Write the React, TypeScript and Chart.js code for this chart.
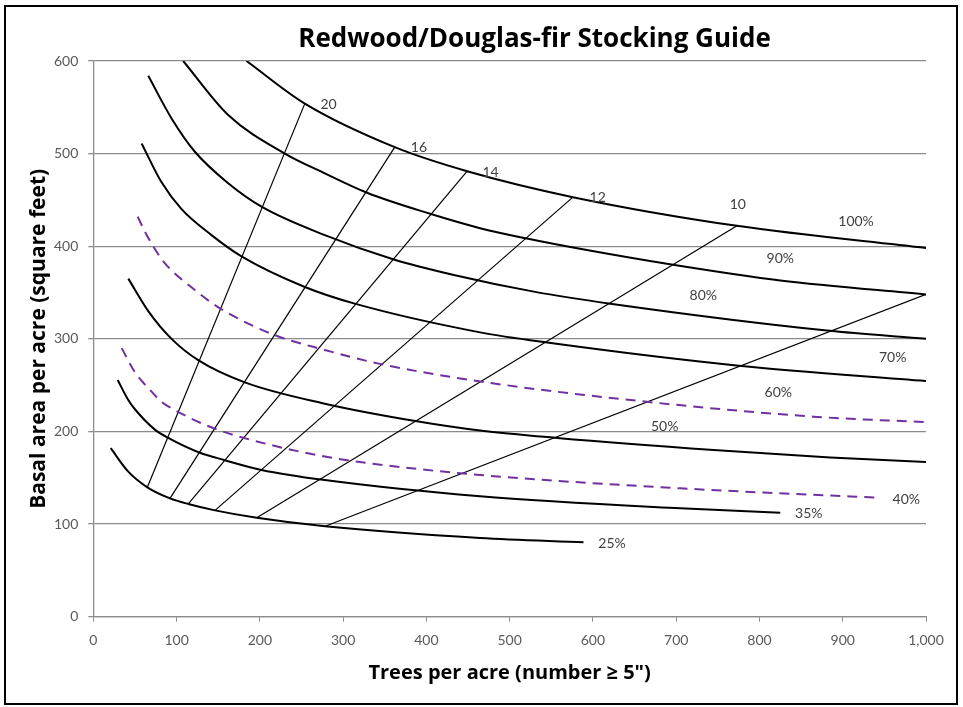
import React, { useEffect, useRef } from "react";
import { Chart, registerables } from "chart.js";

Chart.register(...registerables);

// Stocking-percent curves (trees per acre, basal area)
const tpa100 = [184, 254, 362, 449, 576, 773, 1000];
const ba100 = [600, 554, 507, 481, 453, 422, 398];
const tpa90 = [108, 162, 230, 278, 328, 404.5, 464.5, 520.7, 582.7, 698, 825, 1000];
const ba90 = [600, 541.7, 500, 478.7, 458, 435, 419.5, 408.3, 397.5, 379.7, 363, 348];
const tpa80 = [66, 94, 122, 162, 202, 278, 360, 433, 529, 621, 881, 1000];
const ba80 = [584, 538, 502, 468, 442.7, 412, 386, 369, 351, 338, 309, 300];
const tpa70 = [58, 82, 106, 142, 178, 254, 314, 464.5, 545, 775, 1000];
const ba70 = [511, 469, 440, 412, 389, 356, 338, 307, 296, 271, 254.5];
const tpa60 = [53.3, 62, 76, 86, 122, 152, 218, 278, 344, 464.5, 665, 865, 1000];
const ba60 = [432, 415.7, 394, 381.5, 352.7, 333, 304, 288, 273, 254, 232, 216, 210];
const tpa50 = [42, 66, 94, 126, 182, 278, 388.5, 464.5, 557, 745, 885, 1000];
const ba50 = [365, 330, 300, 277, 253, 230, 211, 201, 193, 180, 172, 167];
const tpa40 = [34.1, 50, 70, 82, 98, 146, 222, 278, 328, 464.5, 705, 942.6];
const ba40 = [290, 264, 243, 232, 223, 203, 183.5, 173, 166, 153, 138.6, 128.5];
const tpa35 = [29.3, 42, 50, 74, 90, 128, 158, 202, 278, 464.5, 705, 825];
const ba35 = [255.6, 234, 224, 202, 193, 177, 169, 158.4, 147.5, 130, 117, 112.3];
const tpa25 = [20.9, 42, 64.9, 92.1, 114.1, 146.2, 196.3, 278.4, 464.5, 588.7];
const ba25 = [182, 156.6, 139.7, 127.8, 121.7, 114.8, 106.8, 97.6, 85, 80.3];

// Diameter (QMD) lines: [lower TPA, lower BA, upper TPA, upper BA]
const dia20 = [64.9, 139.7, 254, 554];
const dia16 = [92.1, 127.8, 362, 507];
const dia14 = [114.1, 121.7, 449, 481];
const dia12 = [146.2, 114.8, 576, 453];
const dia10 = [196.3, 106.8, 773, 422];
const dia8 = [278.4, 97.6, 1000, 348];

// In-chart labels
const labelText = ["20", "16", "14", "12", "10", "100%", "90%", "80%", "70%", "60%", "50%", "40%", "35%", "25%"];
const labelX = [282.6, 391, 477, 605.7, 774, 916, 825, 732.5, 960, 822.6, 686.2, 976.4, 859.2, 623];
const labelY = [553, 507, 480, 453, 445.6, 427, 387, 346.6, 279.6, 242.3, 205.9, 127, 111.6, 79.2];

const chartTitle = "Redwood/Douglas-fir Stocking Guide";
const xTitle = "Trees per acre (number \u2265 5\")";
const yTitle = "Basal area per acre (square feet)";
const xTicksMax = 1000;
const yTicksMax = 600;

const toPts = (xs: number[], ys: number[]) => xs.map((x, i) => ({ x, y: ys[i] }));
const seg = (d: number[]) => [
  { x: d[0], y: d[1] },
  { x: d[2], y: d[3] },
];

const PURPLE = "#7030A0";
const FONT = "Lato, 'Open Sans', sans-serif";
const TFONT = "'Open Sans', Lato, sans-serif";

export default function App() {
  const ref = useRef<HTMLCanvasElement | null>(null);

  useEffect(() => {
    if (!ref.current) return;
    const curve = (xs: number[], ys: number[], dashed = false) => ({
      data: toPts(xs, ys),
      showLine: true,
      pointRadius: 0,
      borderColor: dashed ? PURPLE : "#000000",
      borderWidth: 2,
      borderDash: dashed ? [10, 7] : [],
      cubicInterpolationMode: "monotone" as const,
      tension: 0.4,
    });
    const line = (d: number[]) => ({
      data: seg(d),
      showLine: true,
      pointRadius: 0,
      borderColor: "#000000",
      borderWidth: 1.2,
      tension: 0,
    });

    const labelPlugin = {
      id: "curveLabels",
      afterDatasetsDraw(chart: any) {
        const { ctx, scales } = chart;
        ctx.save();
        ctx.font = `14px ${FONT}`;
        ctx.fillStyle = "#404040";
        ctx.textAlign = "center";
        ctx.textBaseline = "middle";
        labelText.forEach((t, i) => {
          ctx.fillText(t, scales.x.getPixelForValue(labelX[i]), scales.y.getPixelForValue(labelY[i]));
        });
        ctx.restore();
      },
      afterDraw(chart: any) {
        const { ctx } = chart;
        ctx.save();
        ctx.font = `bold 26px ${TFONT}`;
        ctx.fillStyle = "#000000";
        ctx.textAlign = "center";
        ctx.textBaseline = "middle";
        ctx.fillText(chartTitle, 534.5, 40);
        ctx.restore();
      },
    };

    const chart = new Chart(ref.current, {
      type: "scatter",
      data: {
        datasets: [
          curve(tpa100, ba100),
          curve(tpa90, ba90),
          curve(tpa80, ba80),
          curve(tpa70, ba70),
          curve(tpa60, ba60, true),
          curve(tpa50, ba50),
          curve(tpa40, ba40, true),
          curve(tpa35, ba35),
          curve(tpa25, ba25),
          line(dia20),
          line(dia16),
          line(dia14),
          line(dia12),
          line(dia10),
          line(dia8),
        ],
      },
      options: {
        animation: false,
        responsive: false,
        layout: { padding: { left: 0, right: 37, top: 61, bottom: 0 } },
        plugins: {
          legend: { display: false },
          tooltip: { enabled: false },
          title: { display: false },
        },
        scales: {
          x: {
            type: "linear",
            min: 0,
            max: xTicksMax,
            afterFit: (s: any) => {
              s.height = 90.3;
            },
            ticks: {
              stepSize: 100,
              color: "#595959",
              font: { family: FONT, size: 14 },
              padding: 10,
            },
            grid: { display: true, drawOnChartArea: false, drawTicks: true, tickLength: 5, color: "#8c8c8c" },
            border: { display: true, color: "#8c8c8c", width: 1.3 },
            title: {
              display: true,
              text: xTitle,
              color: "#000000",
              font: { family: TFONT, size: 20, weight: "bold", lineHeight: 1.2 },
              padding: { top: 0, bottom: 22 },
            },
          },
          y: {
            type: "linear",
            min: 0,
            max: yTicksMax,
            afterFit: (s: any) => {
              s.width = 93.3;
            },
            ticks: {
              stepSize: 100,
              color: "#595959",
              font: { family: FONT, size: 14 },
              padding: 10,
            },
            grid: { display: true, drawTicks: true, tickLength: 5, color: "#8c8c8c", lineWidth: 1.3 },
            border: { display: true, color: "#8c8c8c", width: 1.3 },
            title: {
              display: true,
              text: yTitle,
              color: "#000000",
              font: { family: TFONT, size: 21, weight: "bold", lineHeight: 1.2 },
              padding: { top: 26, bottom: 0 },
            },
          },
        },
      } as any,
      plugins: [labelPlugin],
    });
    return () => chart.destroy();
  }, []);

  return (
    <div style={{ position: "fixed", left: 0, top: 0, width: 963, height: 707, background: "#ffffff" }}>
      <canvas ref={ref} width={963} height={707} style={{ position: "absolute", left: 0, top: 0 }} />
      <div
        style={{
          position: "absolute",
          left: 4,
          top: 5,
          width: 954,
          height: 700,
          border: "2px solid #000",
          boxSizing: "border-box",
          pointerEvents: "none",
        }}
      />
    </div>
  );
}
